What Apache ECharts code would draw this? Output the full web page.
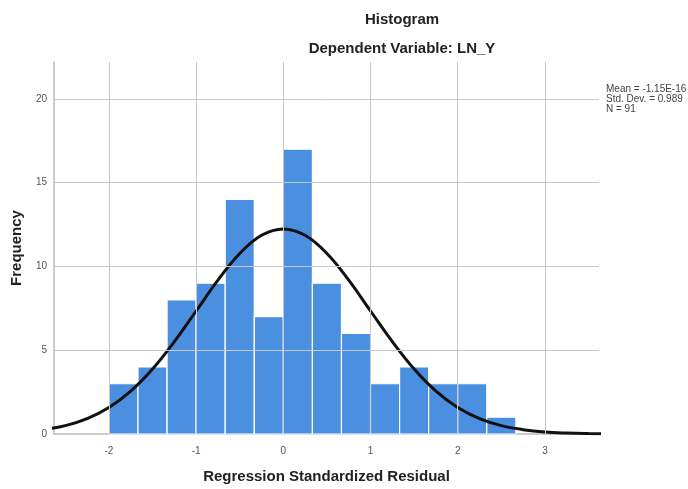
<!DOCTYPE html>
<html>
<head>
<meta charset="utf-8">
<title>Histogram</title>
<script src="https://cdn.jsdelivr.net/npm/echarts@6/dist/echarts.min.js"></script>
<style>
  html, body { margin: 0; padding: 0; background: #fff; }
  #chart { width: 688px; height: 489px; }
</style>
</head>
<body>
<div id="chart"></div>
<script>
// bins (left edge), width 1/3
const binStart = [-2, -1.6667, -1.3333, -1, -0.6667, -0.3333, 0, 0.3333, 0.6667, 1, 1.3333, 1.6667, 2, 2.3333]
const binWidth = 1 / 3
const counts = [3, 4, 8, 9, 14, 7, 17, 9, 6, 3, 4, 3, 3, 1]

// normal curve
const curveX = [-2.75, -2.5, -2.25, -2, -1.75, -1.5, -1.25, -1, -0.75, -0.5, -0.25, 0,
  0.25, 0.5, 0.75, 1, 1.25, 1.5, 1.75, 2, 2.25, 2.5, 2.75, 3, 3.25, 3.5, 3.75]
const curveY = [0.26, 0.5, 0.92, 1.58, 2.56, 3.88, 5.51, 7.34, 9.18, 10.77, 11.86, 12.24,
  11.86, 10.77, 9.18, 7.34, 5.51, 3.88, 2.56, 1.58, 0.92, 0.5, 0.26, 0.12, 0.055, 0.023, 0.008]

const xTicks = [-2, -1, 0, 1, 2, 3]
const yTicks = [5, 10, 15, 20]

const statsLines = ['Mean = -1.15E-16', 'Std. Dev. = 0.989', 'N = 91']

const font = 'Liberation Sans, Arial, sans-serif'
const gridColor = '#c8c8c8'

let option = {
  backgroundColor: '#fff',
  animation: false,
  title: [
    {
      text: 'Histogram',
      left: 397,
      top: 7,
      textAlign: 'center',
      textStyle: { fontFamily: font, fontSize: 15, fontWeight: 'bold', color: '#222' }
    },
    {
      text: 'Dependent Variable: LN_Y',
      left: 397,
      top: 36,
      textAlign: 'center',
      textStyle: { fontFamily: font, fontSize: 15, fontWeight: 'bold', color: '#222' }
    }
  ],
  grid: { left: 54, right: 89, top: 62, bottom: 51 },
  xAxis: {
    type: 'value',
    min: -2.63,
    max: 3.62,
    name: 'Regression Standardized Residual',
    nameLocation: 'middle',
    nameGap: 35,
    nameTextStyle: { fontFamily: font, fontSize: 15, fontWeight: 'bold', color: '#222' },
    axisLine: { show: true, lineStyle: { color: '#bbb', width: 1.5 } },
    axisTick: { show: false },
    splitLine: { show: false },
    axisLabel: {
      fontFamily: font, fontSize: 10, color: '#555', margin: 12,
      customValues: xTicks
    }
  },
  yAxis: {
    type: 'value',
    min: 0,
    max: 22.2,
    name: 'Frequency',
    nameLocation: 'middle',
    nameGap: 30,
    nameTextStyle: { fontFamily: font, fontSize: 15, fontWeight: 'bold', color: '#222' },
    axisLine: { show: true, onZero: false, lineStyle: { color: '#bbb', width: 1.5 } },
    axisTick: { show: false },
    splitLine: { show: false },
    axisLabel: {
      fontFamily: font, fontSize: 10, color: '#555', margin: 7,
      customValues: [0].concat(yTicks)
    }
  },
  graphic: [
    {
      type: 'text',
      left: 606,
      top: 84,
      style: {
        text: statsLines.join('\n'),
        font: '10px ' + font,
        lineHeight: 10,
        fill: '#444'
      }
    }
  ],
  series: [
    {
      // grid lines only
      type: 'line',
      data: [],
      z: 1,
      silent: true,
      markLine: {
        silent: true,
        symbol: 'none',
        label: { show: false },
        lineStyle: { color: gridColor, width: 1, type: 'solid' },
        data: xTicks.map(v => ({ xAxis: v })).concat(yTicks.map(v => ({ yAxis: v })))
      }
    },
    {
      type: 'custom',
      z: 2,
      data: binStart.map((s, i) => [s, s + binWidth, counts[i]]),
      renderItem: function (params, api) {
        const p0 = api.coord([api.value(0), api.value(2)])
        const p1 = api.coord([api.value(1), 0])
        return {
          type: 'rect',
          shape: { x: p0[0], y: p0[1], width: p1[0] - p0[0], height: p1[1] - p0[1] },
          style: { fill: '#4a8fe0', stroke: '#fff', lineWidth: 1.2 }
        }
      }
    },
    {
      type: 'line',
      z: 3,
      smooth: 0.4,
      symbol: 'none',
      data: curveX.map((x, i) => [x, curveY[i]]),
      lineStyle: { color: '#111', width: 3 }
    }
  ]
}

const myChart = echarts.init(document.getElementById('chart'))
myChart.setOption(option)
</script>
</body>
</html>
